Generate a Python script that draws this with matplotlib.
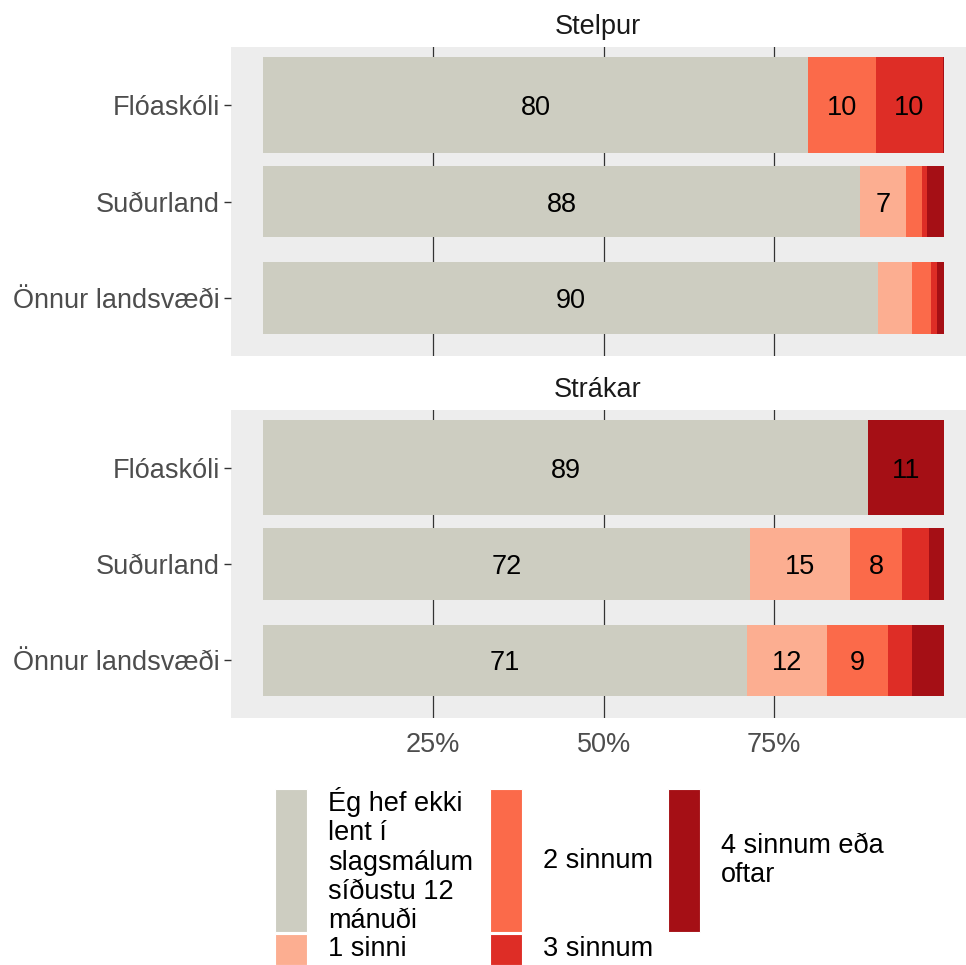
import numpy as np
import matplotlib.pyplot as plt
from matplotlib.patches import Rectangle

plt.rcParams["font.family"] = ["Liberation Sans", "DejaVu Sans"]

# --- data (percent of respondents) ---
regions = ["Flóaskóli", "Suðurland", "Önnur landsvæði"]
groups = ["Stelpur", "Strákar"]
responses = [
    "Ég hef ekki\nlent í\nslagsmálum\nsíðustu 12\nmánuði",
    "1 sinni",
    "2 sinnum",
    "3 sinnum",
    "4 sinnum eða\noftar",
]
colors = ["#CDCDC1", "#FCAE91", "#FB6A4A", "#DE2D26", "#A50F15"]

# rows follow `responses`, columns follow `regions`
stelpur_vals = [
    [80.0, 87.6, 90.3],
    [0.0, 6.8, 5.0],
    [10.0, 2.4, 2.8],
    [9.8, 0.7, 0.9],
    [0.2, 2.5, 1.0],
]
strakar_vals = [
    [88.8, 71.5, 71.0],
    [0.0, 14.7, 11.8],
    [0.0, 7.6, 9.0],
    [0.0, 4.0, 3.5],
    [11.2, 2.2, 4.7],
]
bar_heights = [0.99, 0.74, 0.74]
label_min = 6

W, H = 966, 965
fig = plt.figure(figsize=(W / 100, H / 100), dpi=100)


def fx(x):
    return x / W


def fy(y):
    return 1 - y / H


panel_bg = "#EDEDED"
tick_color = "#4D4D4D"
fs = 19.5

axes_boxes = [(47, 356), (410, 718)]
for gi, (group, vals) in enumerate(zip(groups, [stelpur_vals, strakar_vals])):
    top, bottom = axes_boxes[gi]
    ax = fig.add_axes([fx(231), fy(bottom), fx(966) - fx(231), fy(top) - fy(bottom)])
    ax.set_facecolor(panel_bg)
    for s in ax.spines.values():
        s.set_visible(False)

    vals = np.array(vals)
    ypos = np.arange(len(regions))
    left = np.zeros(len(regions))
    for ri in range(len(responses)):
        ax.barh(ypos, vals[ri], left=left, height=bar_heights, color=colors[ri],
                linewidth=0, zorder=2)
        for k in range(len(regions)):
            v = vals[ri, k]
            if v >= label_min:
                ax.text(left[k] + v / 2, ypos[k], f"{v:.0f}", ha="center",
                        va="center_baseline", fontsize=fs, color="black", zorder=3)
        left = left + vals[ri]

    for g in [25, 50, 75]:
        ax.axvline(g, color="#333333", linewidth=0.9, zorder=1)

    ax.set_xlim(-4.7, 103.2)
    ax.set_ylim(2.6, -0.6)
    ax.set_yticks(ypos)
    ax.set_yticklabels(regions, fontsize=fs, color=tick_color)
    ax.tick_params(axis="y", length=5, width=1, color="#333333", pad=3)
    if gi == 1:
        ax.set_xticks([25, 50, 75])
        ax.set_xticklabels(["25%", "50%", "75%"], fontsize=fs, color=tick_color)
        ax.tick_params(axis="x", length=0, pad=10)
    else:
        ax.set_xticks([])
    fig.text(fx(598), fy(top - 20), group, ha="center", va="center", fontsize=fs,
             color="#1A1A1A")

# --- legend (drawn by hand, ggplot style) ---
key_w = 32
legend_items = [
    (0, 275, 789, 932),
    (1, 275, 934, 965),
    (2, 490, 789, 932),
    (3, 490, 934, 965),
    (4, 668, 789, 932),
]
for ri, x0, y0, y1 in legend_items:
    fig.add_artist(Rectangle((fx(x0), fy(y1)), fx(key_w), fy(y0) - fy(y1),
                             transform=fig.transFigure, facecolor=colors[ri],
                             edgecolor="white", linewidth=0.8))
    fig.text(fx(x0 + key_w + 21), fy((y0 + y1) / 2), responses[ri], ha="left",
             va="center", fontsize=fs, color="black", linespacing=1.16)

fig.savefig("out.png", dpi=100)
